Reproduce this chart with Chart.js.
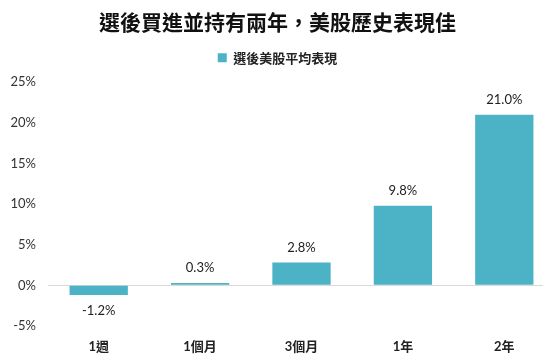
<!DOCTYPE html>
<html lang="zh-Hant">
<head>
<meta charset="utf-8">
<script src="https://cdn.jsdelivr.net/npm/chart.js@4/dist/chart.umd.min.js"></script>
<style>
html,body{margin:0;padding:0;background:#fff;overflow:hidden;}
#wrap{position:relative;width:555px;height:358px;}
</style>
</head>
<body>
<div id="wrap"><canvas id="c"></canvas></div>
<script>
const categories = ['1週', '1個月', '3個月', '1年', '2年'];
const seriesName = '選後美股平均表現';
const values = [-1.2, 0.3, 2.8, 9.8, 21.0];
const yTicks = [-5, 0, 5, 10, 15, 20, 25];
const titleText = '選後買進並持有兩年，美股歷史表現佳';

const BAR = '#4BB3C5';
const FONT = "Lato, 'Noto Sans CJK TC', sans-serif";
const CJK = "'Noto Sans CJK TC', sans-serif";

const valueLabels = {
  id: 'valueLabels',
  beforeLayout(chart) {
    const lg = chart.legend;
    if (lg && !lg._extraSpace) {
      const f = lg.fit.bind(lg);
      lg.fit = function () { f(); this.height += 8; };
      lg._extraSpace = true;
    }
  },
  afterDatasetsDraw(chart) {
    const ctx = chart.ctx;
    const meta = chart.getDatasetMeta(0);
    ctx.save();
    ctx.font = "13px " + FONT;
    ctx.fillStyle = '#222';
    ctx.textAlign = 'center';
    ctx.textBaseline = 'middle';
    meta.data.forEach((bar, i) => {
      const v = chart.data.datasets[0].data[i];
      const y = v >= 0 ? bar.y - 15 : bar.y + 16;
      ctx.fillText(v.toFixed(1) + '%', bar.x, y);
    });
    ctx.restore();
  }
};

new Chart(document.getElementById('c'), {
  type: 'bar',
  data: {
    labels: categories,
    datasets: [{
      label: seriesName,
      data: values,
      backgroundColor: BAR,
      borderWidth: 0,
      barPercentage: 0.575,
      categoryPercentage: 1.0
    }]
  },
  options: {
    responsive: true,
    maintainAspectRatio: false,
    animation: false,
    layout: { padding: { left: 0, right: 0, top: 0, bottom: 0 } },
    plugins: {
      title: {
        display: true,
        text: titleText,
        color: '#111',
        font: { family: CJK, size: 21, weight: 'bold' },
        padding: { top: 9, bottom: 1 }
      },
      legend: {
        display: true,
        labels: {
          color: '#222',
          font: { family: CJK, size: 13, weight: 'bold' },
          boxWidth: 9,
          boxHeight: 9,
          padding: 16
        }
      },
      tooltip: { enabled: false }
    },
    scales: {
      x: {
        grid: { display: false, drawTicks: false },
        border: { display: false },
        ticks: {
          color: '#222',
          font: { family: FONT, size: 13, weight: 'bold' },
          padding: 13
        },
        afterFit(s) { s.height = 32; }
      },
      y: {
        min: -5,
        max: 25,
        afterBuildTicks(s) { s.ticks = yTicks.map(v => ({ value: v })); },
        grid: {
          drawTicks: false,
          color: c => (c.tick && c.tick.value === 0) ? '#d9d9d9' : 'rgba(0,0,0,0)',
          lineWidth: 1
        },
        border: { display: false },
        ticks: {
          color: '#333',
          font: { family: FONT, size: 13 },
          padding: 12,
          callback: v => v + '%'
        },
        afterFit(s) { s.width = 48; }
      }
    }
  },
  plugins: [valueLabels]
});
</script>
</body>
</html>
